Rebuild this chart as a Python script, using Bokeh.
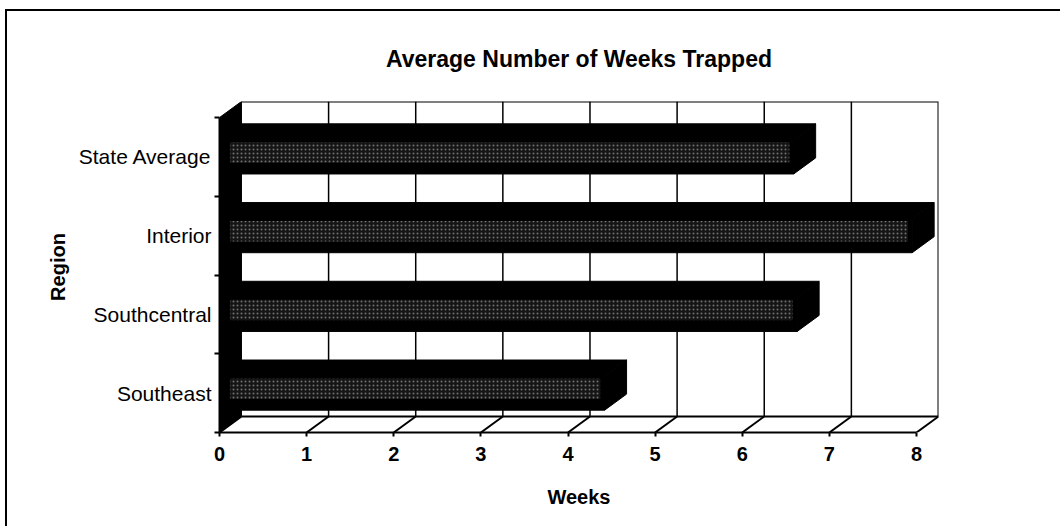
from bokeh.plotting import figure
from bokeh.models import Range1d, FixedTicker
from bokeh.embed import file_html
from bokeh.resources import INLINE

# ---- data ----
regions = ["Southeast", "Southcentral", "Interior", "State Average"]
weeks = [4.42, 6.63, 7.95, 6.59]
x_ticks = [0, 1, 2, 3, 4, 5, 6, 7, 8]
title_text = "Average Number of Weeks Trapped"
x_title = "Weeks"
y_title = "Region"

# ---- 3D geometry (style) ----
XMAX = x_ticks[-1]
NCAT = len(regions)
DX = 0.252   # depth offset in weeks
DY = 0.204   # depth offset in category units
H = 0.2166   # half bar height
FONT = "Liberation Sans"

p = figure(width=1055, height=517, output_backend="svg", toolbar_location=None,
           x_range=Range1d(0, XMAX + DX), y_range=Range1d(0, NCAT + DY),
           min_border_left=212, min_border_right=124, min_border_top=90, min_border_bottom=96,
           title=title_text)
p.styles = {"border-top": "2px solid black", "border-left": "2px solid black",
            "margin-top": "9px", "margin-left": "5px"}
p.outline_line_color = None
p.xgrid.visible = False
p.ygrid.visible = False
p.background_fill_color = "white"
p.border_fill_color = "white"

p.title.align = "center"
p.title.text_font = FONT
p.title.text_font_size = "23px"
p.title.text_font_style = "bold"
p.title.text_color = "black"
p.title.standoff = 59

# x axis
xa = p.xaxis[0]
xa.ticker = FixedTicker(ticks=x_ticks, minor_ticks=[])
xa.bounds = (0, XMAX)
xa.axis_line_width = 2
xa.axis_line_color = "black"
xa.major_tick_line_width = 2
xa.major_tick_line_color = "black"
xa.major_tick_out = 4
xa.major_tick_in = 0
xa.minor_tick_out = 0
xa.major_label_text_font = FONT
xa.major_label_text_font_size = "20px"
xa.major_label_text_font_style = "bold"
xa.major_label_text_color = "black"
xa.major_label_standoff = 10
xa.axis_label = x_title
xa.axis_label_text_font = FONT
xa.axis_label_text_font_size = "20px"
xa.axis_label_text_font_style = "bold"
xa.axis_label_text_color = "black"
xa.axis_label_standoff = 22

# y axis
centers = [i + 0.5 for i in range(NCAT)]
ya = p.yaxis[0]
ya.ticker = FixedTicker(ticks=centers, minor_ticks=list(range(NCAT + 1)))
ya.major_label_overrides = {c: r for c, r in zip(centers, regions)}
ya.bounds = (0, NCAT)
ya.axis_line_width = 2
ya.axis_line_color = "black"
ya.major_tick_out = 0
ya.major_tick_in = 0
ya.minor_tick_out = 5
ya.minor_tick_in = 0
ya.minor_tick_line_width = 2
ya.minor_tick_line_color = "black"
ya.major_label_text_font = FONT
ya.major_label_text_font_size = "21px"
ya.major_label_text_color = "black"
ya.major_label_standoff = 3
ya.axis_label = y_title
ya.axis_label_text_font = FONT
ya.axis_label_text_font_size = "20px"
ya.axis_label_text_font_style = "bold"
ya.axis_label_text_color = "black"
ya.axis_label_standoff = 7

# back wall vertical gridlines
inner = x_ticks[1:-1]
p.segment(x0=[k + DX for k in inner], y0=[DY] * len(inner),
          x1=[k + DX for k in inner], y1=[NCAT + DY] * len(inner),
          line_color="black", line_width=1.5)
# back wall border (top and right)
p.line(x=[DX, XMAX + DX, XMAX + DX], y=[NCAT + DY, NCAT + DY, DY], line_color="black", line_width=2)
# floor back edge and diagonals
p.line(x=[DX, XMAX + DX], y=[DY, DY], line_color="black", line_width=2)
p.segment(x0=x_ticks, y0=[0] * len(x_ticks), x1=[k + DX for k in x_ticks], y1=[DY] * len(x_ticks),
          line_color="black", line_width=2)
# left wall (black)
p.patch(x=[0, DX, DX, 0], y=[0, DY, NCAT + DY, NCAT], fill_color="black", line_color="black")

# bars
for c, v in zip(centers, weeks):
    # front face
    p.quad(left=0, right=v, bottom=c - H, top=c + H, fill_color="black", line_color="black")
    # top face
    p.patch(x=[0, v, v + DX, DX], y=[c + H, c + H, c + H + DY, c + H + DY],
            fill_color="black", line_color="black")
    # end face
    p.patch(x=[v, v + DX, v + DX, v], y=[c - H, c - H + DY, c + H + DY, c + H],
            fill_color="black", line_color="black")
    # stippled grey band on front face
    p.quad(left=0.12, right=v - 0.05, bottom=c + H - 0.29, top=c + H - 0.03,
           fill_color="#151515", line_color=None,
           hatch_pattern="dot", hatch_color="#707070", hatch_scale=4, hatch_weight=1.2)

open("out.html", "w").write(file_html(p, INLINE))
